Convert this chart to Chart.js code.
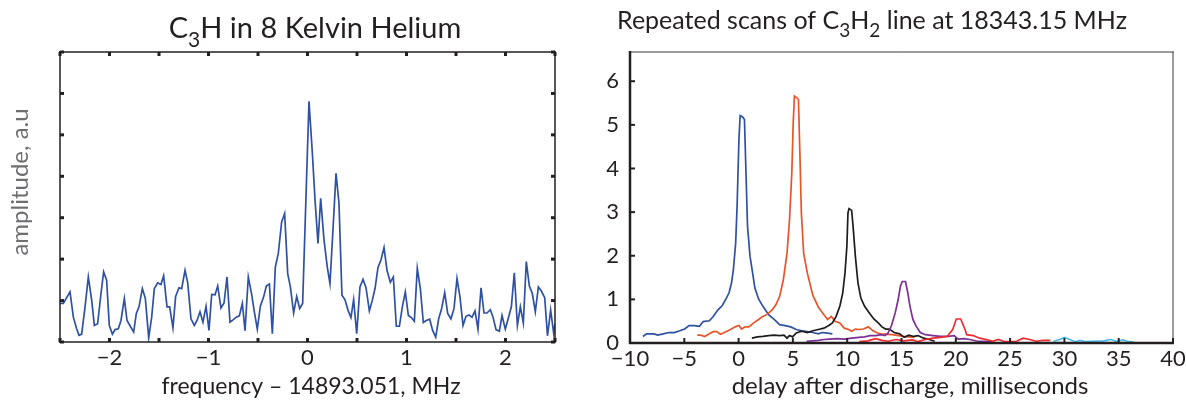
<!DOCTYPE html>
<html>
<head>
<meta charset="utf-8">
<script src="https://cdn.jsdelivr.net/npm/chart.js@4"></script>
<style>
html, body { margin: 0; padding: 0; background: #fff; }
#wrap { position: relative; width: 1186px; height: 406px; }
#c1 { position: absolute; left: 0; top: 0; }
#c2 { position: absolute; left: 590px; top: 0; }
</style>
</head>
<body>
<div id="wrap">
  <canvas id="c1" width="590" height="406"></canvas>
  <canvas id="c2" width="596" height="406"></canvas>
</div>
<script>
// left panel: C3H spectrum
const leftFreq = [-2.500,-2.466,-2.399,-2.365,-2.332,-2.308,-2.281,-2.247,-2.214,-2.180,
  -2.153,-2.120,-2.086,-2.059,-2.029,-2.002,-1.971,-1.944,-1.911,-1.884,
  -1.850,-1.823,-1.790,-1.756,-1.729,-1.702,-1.668,-1.638,-1.604,-1.574,
  -1.547,-1.513,-1.480,-1.453,-1.419,-1.392,-1.359,-1.332,-1.298,-1.271,
  -1.237,-1.210,-1.177,-1.143,-1.116,-1.086,-1.056,-1.025,-0.995,-0.968,
  -0.934,-0.907,-0.874,-0.843,-0.813,-0.783,-0.749,-0.719,-0.689,-0.658,
  -0.631,-0.598,-0.564,-0.537,-0.507,-0.476,-0.443,-0.416,-0.385,-0.355,
  -0.325,-0.295,-0.261,-0.231,-0.200,-0.173,-0.140,-0.109,-0.079,-0.049,
  0.015,0.049,0.076,0.106,0.133,0.167,0.200,0.227,0.258,0.288,
  0.318,0.348,0.379,0.409,0.439,0.466,0.497,0.530,0.561,0.591,
  0.625,0.655,0.682,0.712,0.742,0.773,0.803,0.837,0.867,0.897,
  0.928,0.958,0.988,1.019,1.049,1.079,1.109,1.140,1.170,1.200,
  1.234,1.264,1.295,1.325,1.355,1.386,1.416,1.449,1.480,1.510,
  1.540,1.571,1.601,1.631,1.662,1.692,1.722,1.753,1.783,1.813,
  1.847,1.874,1.904,1.938,1.965,1.998,2.029,2.059,2.089,2.120,
  2.150,2.180,2.210,2.241,2.271,2.301,2.332,2.362,2.396,2.424,
  2.456,2.487,2.500];
const leftAmp = [0.93,0.93,1.21,0.60,0.32,0.16,0.19,0.85,1.57,1.01,
  0.40,0.44,1.17,1.69,1.49,0.40,0.19,0.30,0.32,0.52,
  1.05,0.52,0.38,0.24,0.69,0.85,1.29,1.05,0.10,0.60,
  1.29,1.43,1.39,1.60,0.85,0.85,0.34,1.10,1.31,1.29,
  1.73,1.43,0.56,0.40,0.52,0.73,0.48,0.86,0.28,1.15,
  1.14,1.35,0.82,0.94,1.57,0.48,0.54,0.60,0.63,0.93,
  0.27,1.57,1.15,0.73,0.31,0.87,1.09,1.35,1.40,0.20,
  1.81,2.14,2.90,3.10,1.65,1.33,0.70,1.10,0.81,0.93,
  5.81,4.56,3.43,2.38,3.47,2.46,1.81,1.41,2.74,4.07,
  3.35,1.13,1.02,0.77,0.59,1.02,0.20,1.33,1.51,1.31,
  0.75,1.01,1.29,1.80,1.98,2.28,1.73,1.44,1.57,0.38,
  0.38,0.85,1.21,0.64,0.59,0.50,1.78,1.29,0.47,0.52,
  0.55,0.28,0.12,0.56,0.81,1.19,0.69,0.56,0.81,1.53,
  1.09,0.40,0.62,0.65,0.60,0.75,0.31,1.31,0.70,0.70,
  0.78,0.60,0.30,0.26,0.64,0.31,0.58,0.85,1.67,0.40,
  0.85,0.46,1.94,1.35,1.17,0.73,1.33,1.23,1.07,0.15,
  0.77,0.20,0.44];
const leftXLabels = [-2, -1, 0, 1, 2];

// right panel: repeated scans, one array pair per scan
const blueDelay = [-8.81,-8.47,-7.79,-7.45,-6.94,-6.43,-5.92,-5.41,-4.97,-4.56,-4.05,-3.61,-3.27,-2.69,-2.35,
  -1.90,-1.50,-1.16,-0.88,-0.65,-0.48,-0.27,-0.14,0.03,0.14,0.37,0.54,0.68,0.82,1.05,1.29,1.50,1.84,2.24,
  2.76,3.27,3.78,4.29,4.80,5.31,5.82,6.33,6.84,7.35,7.69,8.03,8.64];
const blueAmp = [0.15,0.21,0.21,0.18,0.21,0.24,0.24,0.28,0.32,0.40,0.40,0.38,0.49,0.51,0.60,
  0.76,0.86,1.01,1.15,1.38,1.68,2.29,3.13,4.66,5.21,5.18,5.12,3.90,2.68,1.99,1.61,1.26,1.01,0.84,
  0.65,0.54,0.42,0.40,0.37,0.31,0.28,0.26,0.24,0.21,0.24,0.23,0.21];
const orangeDelay = [-3.81,-3.47,-3.13,-2.69,-2.35,-2.01,-1.67,-1.16,-0.75,-0.31,0.03,0.27,0.61,0.95,1.39,
  1.84,2.18,2.59,3.10,3.44,3.78,4.12,4.46,4.69,4.90,5.03,5.14,5.37,5.51,5.65,5.78,5.99,6.33,6.84,7.35,
  7.86,8.20,8.54,8.88,9.32,9.73,10.14,10.41,10.75,11.09,11.50,11.94,12.38,12.79,13.13,14.15,15.17,16.19];
const orangeAmp = [0.18,0.18,0.15,0.21,0.26,0.26,0.20,0.26,0.31,0.37,0.40,0.32,0.37,0.37,0.46,
  0.54,0.60,0.65,0.76,0.88,1.07,1.45,2.06,2.83,3.90,5.05,5.66,5.62,5.58,4.28,2.98,2.06,1.60,1.09,0.82,
  0.65,0.54,0.61,0.50,0.46,0.34,0.31,0.27,0.32,0.31,0.32,0.37,0.28,0.23,0.21,0.19,0.15,0.13];
const blackDelay = [1.22,1.73,2.24,2.76,3.27,3.78,4.18,4.46,4.69,4.97,5.31,5.82,6.33,6.84,7.35,7.86,8.30,
  8.64,8.98,9.32,9.59,9.80,9.97,10.07,10.17,10.41,10.54,10.75,10.99,11.26,11.60,12.04,12.45,12.86,13.20,
  13.54,13.88,14.32,14.83,15.24,15.68,16.12,16.53,17.04,17.55,18.06];
const blackAmp = [0.11,0.14,0.15,0.17,0.18,0.17,0.18,0.11,0.17,0.14,0.23,0.27,0.24,0.28,0.31,0.34,0.40,
  0.46,0.61,0.84,1.15,1.61,2.22,2.98,3.08,3.04,2.68,1.99,1.38,1.03,0.84,0.69,0.55,0.46,0.37,
  0.32,0.32,0.24,0.21,0.13,0.18,0.15,0.17,0.11,0.08,0.04];
const purpleDelay = [6.26,6.84,7.35,7.86,8.37,9.05,9.73,10.41,11.09,11.60,12.11,12.62,13.13,13.47,13.74,
  14.08,14.42,14.69,14.90,15.07,15.37,15.58,15.78,16.05,16.36,16.73,17.21,17.89,18.57,19.25,19.86,20.20,
  20.78,21.29,21.97,22.65,23.33];
const purpleAmp = [0.04,0.05,0.06,0.08,0.09,0.10,0.09,0.11,0.13,0.14,0.17,0.17,0.19,0.17,0.22,
  0.40,0.69,0.99,1.30,1.41,1.41,1.15,0.84,0.54,0.38,0.24,0.19,0.17,0.15,0.15,0.17,0.09,
  0.10,0.08,0.04,0.04,0.03];
const redDelay = [11.1,11.9,12.6,13.2,13.8,14.5,15.2,16.0,16.5,17.2,17.9,18.6,19.2,19.7,20.05,20.45,20.85,
  21.0,21.6,22.2,22.8,23.4,23.9,24.4,25.0,25.6,26.2,26.8,27.4,28.0,28.7];
const redAmp = [0.03,0.05,0.10,0.06,0.04,0.08,0.05,0.07,0.03,0.08,0.11,0.13,0.15,0.30,0.55,0.55,0.31,
  0.19,0.17,0.11,0.08,0.04,0.08,0.04,0.03,0.04,0.11,0.08,0.04,0.06,0.06];
const cyanDelay = [29.0,29.6,30.0,30.5,31.0,31.4,31.9,32.6,33.6,34.3,34.8,35.4,35.9,36.4];
const cyanAmp = [0.04,0.08,0.13,0.08,0.03,0.06,0.03,0.04,0.05,0.08,0.04,0.07,0.03,0.02];
const rightXTicks = [-10, -5, 0, 5, 10, 15, 20, 25, 30, 35, 40];
const rightYTicks = [0, 1, 2, 3, 4, 5, 6];

const FONT = 'Lato, "Open Sans", sans-serif';
const INK = '#231f20';
Chart.defaults.font.family = FONT;
Chart.defaults.color = INK;

const fmt = v => (v < 0 ? '\u2212' + Math.abs(v) : String(v));
const pts = (xs, ys) => xs.map((x, i) => ({ x: x, y: ys[i] }));
function lineSet(xs, ys, color) {
  return { data: pts(xs, ys), borderColor: color, borderWidth: 1.7, pointRadius: 0, tension: 0, fill: false };
}

// box + inward tick marks, positions from the chart's own scales
function makeFrame(o) {
  return {
    id: 'frame',
    afterDraw(chart) {
      const ctx = chart.ctx, a = chart.chartArea, x = chart.scales.x, y = chart.scales.y;
      ctx.save();
      const edge = (w, x1, y1, x2, y2, col) => {
        ctx.lineWidth = w; ctx.strokeStyle = col || INK;
        ctx.beginPath(); ctx.moveTo(x1, y1); ctx.lineTo(x2, y2); ctx.stroke();
      };
      edge(o.top, a.left - 1, a.top, a.right + 1, a.top, o.thinCol);
      edge(o.right, a.right, a.top, a.right, a.bottom, o.thinCol);
      edge(o.bottom, a.left - 1, a.bottom, a.right + 1, a.bottom);
      edge(o.left, a.left, a.top - 1, a.left, a.bottom + 1);
      ctx.lineWidth = o.tickW; ctx.strokeStyle = INK;
      x.ticks.forEach(t => {
        const px = x.getPixelForValue(t.value);
        ctx.beginPath(); ctx.moveTo(px, a.bottom); ctx.lineTo(px, a.bottom - o.tickL); ctx.stroke();
        if (o.topTicks) { ctx.beginPath(); ctx.moveTo(px, a.top); ctx.lineTo(px, a.top + o.tickL); ctx.stroke(); }
      });
      y.ticks.forEach(t => {
        const py = y.getPixelForValue(t.value);
        ctx.beginPath(); ctx.moveTo(a.left, py); ctx.lineTo(a.left + o.tickL, py); ctx.stroke();
        if (o.rightTicks) { ctx.beginPath(); ctx.moveTo(a.right, py); ctx.lineTo(a.right - o.tickL, py); ctx.stroke(); }
      });
      ctx.restore();
    }
  };
}

// titles and axis names, with subscripts
function makeTexts(items) {
  return {
    id: 'texts',
    afterDraw(chart) {
      const ctx = chart.ctx;
      items.forEach(it => {
        ctx.save();
        ctx.translate(it.x, it.y);
        if (it.rot) ctx.rotate(it.rot);
        ctx.fillStyle = it.color || INK;
        ctx.textBaseline = 'alphabetic';
        const fontOf = p => (p.sub ? Math.round(it.size * 0.74) : it.size) + 'px ' + FONT;
        let w = 0;
        it.parts.forEach(p => { ctx.font = fontOf(p); w += ctx.measureText(p.t).width; });
        let cx = -w / 2;
        it.parts.forEach(p => {
          ctx.font = fontOf(p);
          ctx.fillText(p.t, cx, p.sub ? it.size * 0.3 : 0);
          cx += ctx.measureText(p.t).width;
        });
        ctx.restore();
      });
    }
  };
}

const noBox = { grid: { display: false }, border: { display: false } };

new Chart(document.getElementById('c1'), {
  type: 'line',
  data: { datasets: [lineSet(leftFreq, leftAmp, '#2f51a3')] },
  options: {
    responsive: false, animation: false,
    layout: { padding: { top: 52, right: 35, left: 0, bottom: 0 } },
    plugins: { legend: { display: false }, tooltip: { enabled: false } },
    scales: {
      x: Object.assign({
        type: 'linear', min: -2.5, max: 2.5,
        ticks: { stepSize: 0.5, autoSkip: false, maxRotation: 0, padding: -5, font: { size: 22 },
          callback: v => (leftXLabels.includes(v) ? fmt(v) : '') },
        afterFit: s => { s.height = 64; }
      }, noBox),
      y: Object.assign({
        min: 0, max: 7,
        ticks: { stepSize: 1, display: false },
        afterFit: s => { s.width = 60; }
      }, noBox)
    }
  },
  plugins: [
    makeFrame({ top: 1.5, right: 1.5, bottom: 1.5, left: 1.5, tickW: 3, tickL: 4, topTicks: true, rightTicks: true }),
    makeTexts([
      { x: 315, y: 38, size: 29, parts: [{ t: 'C' }, { t: '3', sub: true }, { t: 'H in 8 Kelvin Helium' }] },
      { x: 311, y: 394, size: 23, parts: [{ t: 'frequency \u2013 14893.051, MHz' }] },
      { x: 28, y: 182, size: 24, rot: -Math.PI / 2, color: '#6d6e71', parts: [{ t: 'amplitude, a.u' }] }
    ])
  ]
});

new Chart(document.getElementById('c2'), {
  type: 'line',
  data: { datasets: [
    lineSet(cyanDelay, cyanAmp, '#4cb8e8'),
    lineSet(redDelay, redAmp, '#ee2a2f'),
    lineSet(purpleDelay, purpleAmp, '#7b2f97'),
    lineSet(blackDelay, blackAmp, '#1e1b1c'),
    lineSet(orangeDelay, orangeAmp, '#e5562b'),
    lineSet(blueDelay, blueAmp, '#2f51a3')
  ] },
  options: {
    responsive: false, animation: false,
    layout: { padding: { top: 52, right: 13, left: 0, bottom: 0 } },
    plugins: { legend: { display: false }, tooltip: { enabled: false } },
    scales: {
      x: Object.assign({
        type: 'linear', min: -10, max: 40,
        ticks: { stepSize: 5, autoSkip: false, maxRotation: 0, padding: -5, font: { size: 22 },
          callback: v => (rightXTicks.includes(v) ? fmt(v) : '') },
        afterFit: s => { s.height = 63; }
      }, noBox),
      y: Object.assign({
        min: 0, max: 6.67,
        ticks: { stepSize: 1, includeBounds: false, padding: 3, font: { size: 22 },
          callback: v => (rightYTicks.includes(v) ? String(v) : '') },
        afterFit: s => { s.width = 40; }
      }, noBox)
    }
  },
  plugins: [
    makeFrame({ top: 1, right: 1, bottom: 2.5, left: 2.5, thinCol: '#3a3a3a', tickW: 2, tickL: 5, topTicks: false, rightTicks: false }),
    makeTexts([
      { x: 282, y: 29, size: 25, parts: [{ t: 'Repeated scans of C' }, { t: '3', sub: true }, { t: 'H' }, { t: '2', sub: true }, { t: ' line at 18343.15 MHz' }] },
      { x: 320, y: 394, size: 24, parts: [{ t: 'delay after discharge, milliseconds' }] }
    ])
  ]
});
</script>
</body>
</html>
